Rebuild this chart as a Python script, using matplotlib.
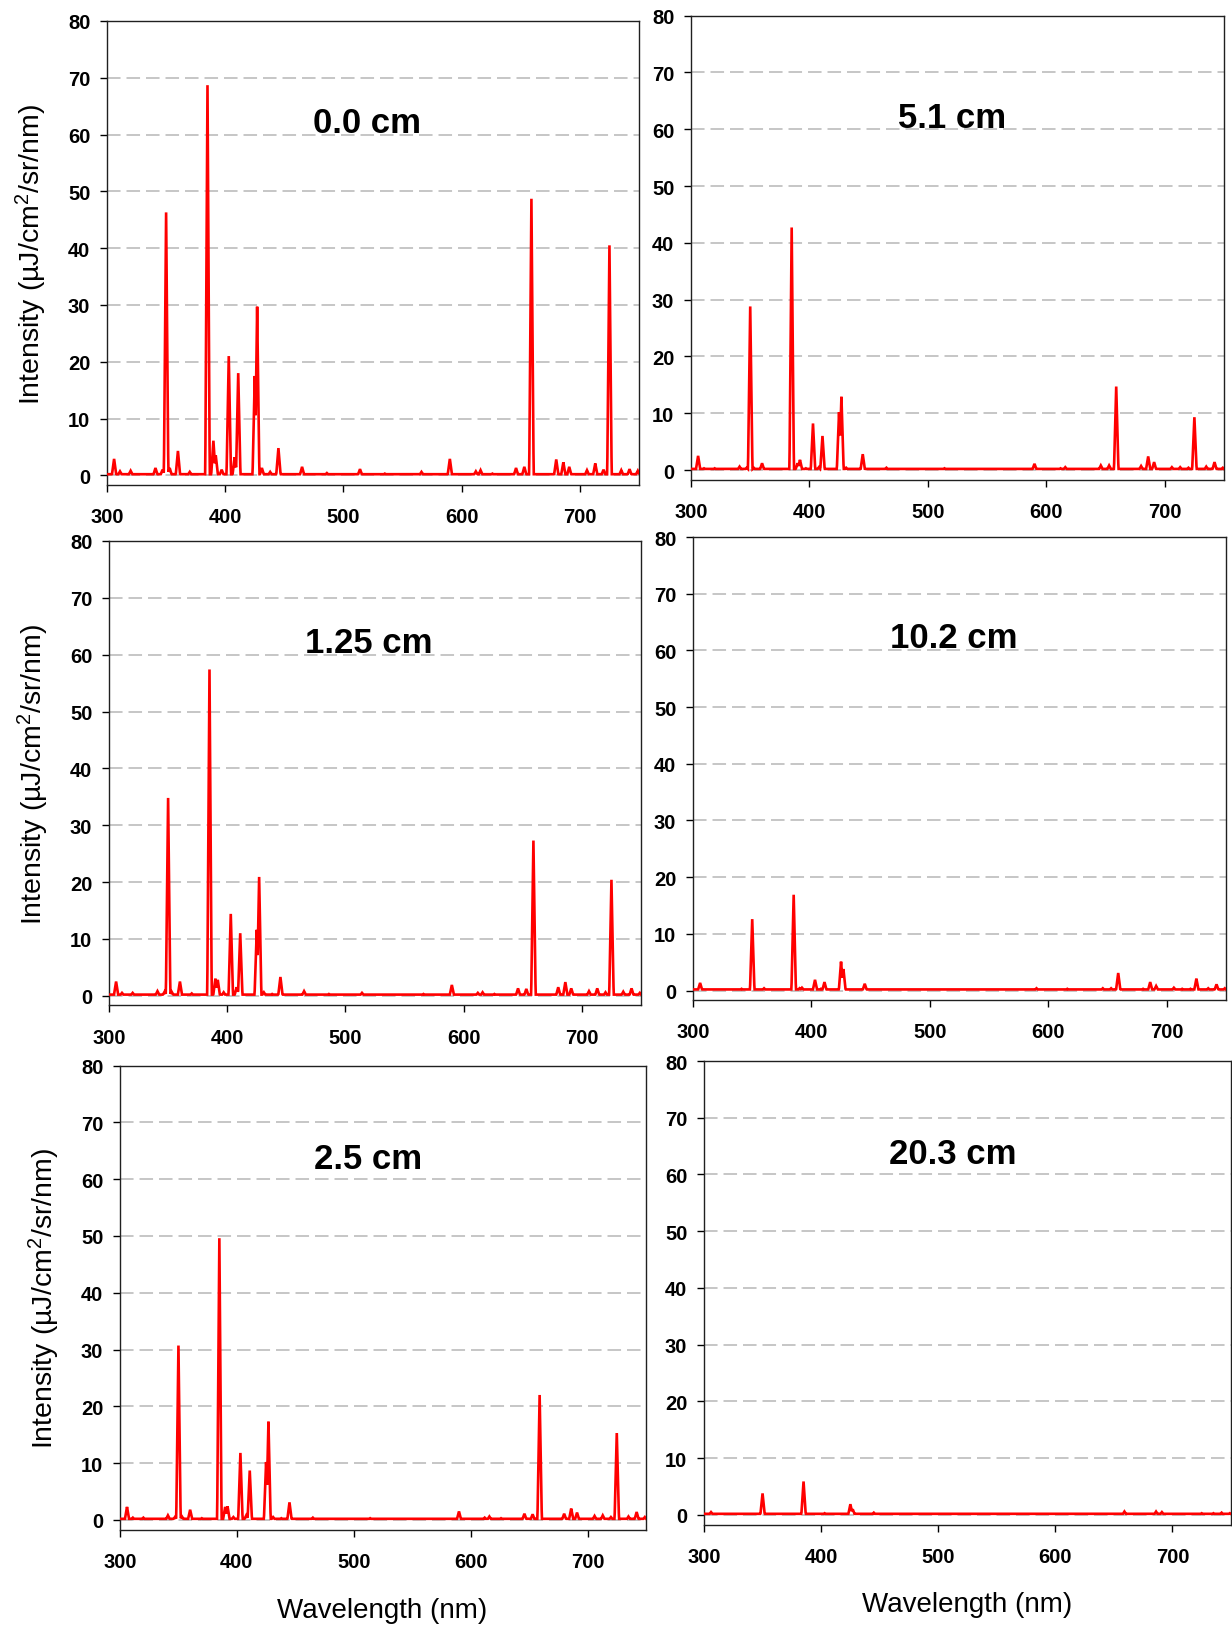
import numpy as np
import matplotlib
matplotlib.use("Agg")
import matplotlib.pyplot as plt

plt.rcParams['font.family'] = ['Liberation Sans', 'DejaVu Sans']
plt.rcParams['mathtext.fontset'] = 'custom'
plt.rcParams['mathtext.rm'] = 'Liberation Sans'
plt.rcParams['mathtext.it'] = 'Liberation Sans'
plt.rcParams['mathtext.bf'] = 'Liberation Sans:bold'

# ---- data ----
line_wl = [306, 311, 320, 341, 347, 350, 353, 360, 370, 385, 390, 392, 397, 403,
           408, 411, 425, 427, 431, 438, 445, 465, 486, 514, 535, 566, 590, 612,
           616, 626, 646, 653, 659, 680, 686, 691, 706, 713, 720, 725, 735, 742, 749]

h_0_0 = [2.9, 0.7, 0.8, 1.3, 1.0, 46.3, 1.3, 4.3, 0.6, 68.7, 6.1, 3.5, 1.0, 21.0,
         3.2, 18.0, 17.5, 29.7, 1.3, 0.6, 4.8, 1.5, 0.4, 1.1, 0.3, 0.6, 2.9, 0.7,
         0.9, 0.3, 1.3, 1.5, 48.7, 2.8, 2.3, 1.5, 0.9, 2.1, 1.0, 40.5, 0.9, 1.1, 0.8]
h_1_25 = [2.5, 0.5, 0.5, 0.8, 0.7, 34.8, 0.7, 2.5, 0.4, 57.4, 3.0, 2.8, 0.6, 14.4,
          1.5, 11.0, 11.6, 20.9, 0.6, 0.3, 3.3, 0.8, 0.3, 0.5, 0.2, 0.3, 1.9, 0.5,
          0.6, 0.3, 1.3, 1.2, 27.3, 1.5, 2.4, 1.3, 0.8, 1.3, 0.6, 20.4, 0.7, 1.3, 0.5]
h_2_5 = [2.3, 0.4, 0.4, 0.8, 0.5, 30.7, 0.6, 1.8, 0.3, 49.6, 2.3, 2.4, 0.5, 11.8,
         0.8, 8.7, 10.2, 17.3, 0.5, 0.3, 3.1, 0.4, 0.2, 0.3, 0.2, 0.2, 1.5, 0.4,
         0.6, 0.3, 1.1, 1.0, 22.0, 1.1, 2.0, 1.3, 0.7, 0.8, 0.5, 15.3, 0.6, 1.4, 0.5]
h_5_1 = [2.5, 0.3, 0.3, 0.6, 0.4, 28.8, 0.4, 1.2, 0.2, 42.7, 1.2, 1.8, 0.3, 8.2,
         0.5, 6.0, 10.2, 12.9, 0.4, 0.2, 2.8, 0.4, 0.2, 0.3, 0.2, 0.2, 1.1, 0.3,
         0.5, 0.2, 0.8, 0.8, 14.7, 0.7, 2.4, 1.4, 0.5, 0.5, 0.4, 9.3, 0.6, 1.4, 0.4]
h_10_2 = [1.35, 0.2, 0.2, 0.3, 0.2, 12.6, 0.2, 0.4, 0.2, 16.9, 0.4, 0.5, 0.2, 1.9,
          0.3, 1.5, 5.1, 3.8, 0.2, 0.2, 1.2, 0.2, 0.2, 0.2, 0.2, 0.2, 0.4, 0.2,
          0.3, 0.2, 0.4, 0.4, 3.1, 0.3, 1.5, 0.8, 0.5, 0.3, 0.3, 2.1, 0.4, 1.1, 0.4]
h_20_3 = [0.5, 0.2, 0.2, 0.2, 0.2, 3.8, 0.2, 0.2, 0.2, 5.9, 0.2, 0.2, 0.2, 0.3,
          0.2, 0.2, 1.9, 1.0, 0.2, 0.2, 0.4, 0.2, 0.2, 0.2, 0.2, 0.2, 0.2, 0.2,
          0.2, 0.2, 0.2, 0.2, 0.6, 0.2, 0.6, 0.5, 0.2, 0.2, 0.2, 0.3, 0.3, 0.4, 0.3]
baseline = 0.2

labels = ["0.0 cm", "5.1 cm", "1.25 cm", "10.2 cm", "2.5 cm", "20.3 cm"]
heights = [h_0_0, h_5_1, h_1_25, h_10_2, h_2_5, h_20_3]
xticks = [300, 400, 500, 600, 700]
yticks = [0, 10, 20, 30, 40, 50, 60, 70, 80]

# ---- figure ----
W, H = 1232, 1631
fig = plt.figure(figsize=(W / 100, H / 100), dpi=100)

# axes rectangles in pixels: left, right, y of top spine (y=80), y of bottom spine
rects = [(107, 639, 22, 486), (691, 1224, 16.6, 480.7),
         (109, 641, 542, 1006.4), (693, 1226, 538, 1001.2),
         (120, 646, 1066.5, 1530.6), (704, 1231, 1062, 1525.6)]
title_pos = [(520, 62.1), (520, 62.1), (520, 62.1), (520, 62.2),
             (512, 63.6), (512, 63.7)]

grid_x = np.arange(300, 750.01, 0.25)
hw = 1.9  # half-width of a spectral line at its base (nm)

for i, (lab, hts) in enumerate(zip(labels, heights)):
    l, r, t, b = rects[i]
    ax = fig.add_axes([l / W, 1 - b / H, (r - l) / W, (b - t) / H])
    wl = np.array(line_wl, dtype=float)
    hh = np.array(hts, dtype=float)
    prof = np.clip(1 - np.abs(grid_x[:, None] - wl[None, :]) / hw, 0, None) * hh[None, :]
    y = np.maximum(baseline, prof.max(axis=1))
    ax.plot(grid_x, y, color='#ff0000', lw=1.9, zorder=3, solid_joinstyle='miter')

    ax.set_xlim(300, 750)
    ax.set_ylim(-1.7, 80)
    ax.set_xticks(xticks)
    ax.set_yticks(yticks)
    ax.yaxis.grid(True, color='#c2c2c2', lw=1.3, linestyle=(0, (7.5, 3.3)), zorder=0)
    ax.set_axisbelow(True)
    for s in ax.spines.values():
        s.set_linewidth(1.0)
        s.set_color('#202020')
    ax.tick_params(axis='y', direction='out', length=5, width=1, pad=7,
                   labelsize=14.5, left=True, right=False)
    ax.tick_params(axis='x', direction='out', length=5, width=1, pad=11,
                   labelsize=14.5, bottom=True, top=False)
    for tl in ax.get_xticklabels() + ax.get_yticklabels():
        tl.set_fontweight('bold')

    tx, ty = title_pos[i]
    ax.text(tx, ty, lab, ha='center', va='center', fontsize=25,
            fontweight='bold')

    if i % 2 == 0:
        ylab_x = [31, 33, 44][i // 2]
        ax.set_ylabel("Intensity (\u00b5J/cm$^{2}$/sr/nm)", fontsize=20.5)
        ax.yaxis.label.set_va('center')
        ax.yaxis.set_label_coords((ylab_x - l) / (r - l), 0.5)

fig.text(382 / W, 1 - 1611 / H, "Wavelength (nm)", ha='center', va='center', fontsize=20)
fig.text(967 / W, 1 - 1605.5 / H, "Wavelength (nm)", ha='center', va='center', fontsize=20)

fig.savefig("out.png", dpi=100)
